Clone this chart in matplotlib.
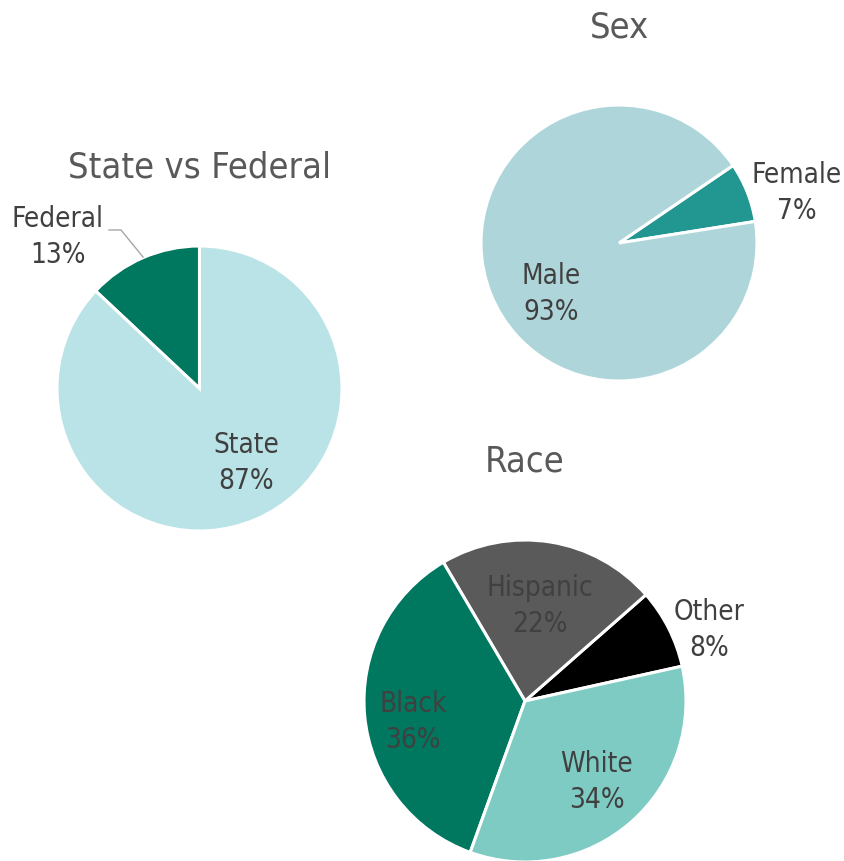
import matplotlib
matplotlib.use("Agg")
import matplotlib.pyplot as plt

# ---- data ----
court_labels = ["Federal", "State"]
court_values = [13, 87]
court_colors = ["#00775f", "#b9e3e6"]

sex_labels = ["Female", "Male"]
sex_values = [7, 93]
sex_colors = ["#229792", "#aed6da"]

race_labels = ["Other", "Hispanic", "Black", "White"]
race_values = [8, 22, 36, 34]
race_colors = ["#000000", "#5a5a5a", "#00775f", "#7ecbc4"]

TEXT = "#404040"
TITLE = "#595959"
W, H = 844, 861
FONT = dict(family=["Tahoma", "DejaVu Sans"], fontstretch="condensed")

fig = plt.figure(figsize=(W / 100, H / 100), dpi=100)
ax = fig.add_axes([0, 0, 1, 1])
ax.set_axis_off()


def py(y):
    return H - y


def draw_pie(values, colors, center, radius, start):
    ax.pie(values, colors=colors, startangle=start, counterclock=True,
           center=(center[0], py(center[1])), radius=radius,
           wedgeprops=dict(edgecolor="white", linewidth=2.2))


def label(text, pct, xy):
    ax.text(xy[0], py(xy[1]), f"{text}\n{pct}%", ha="center", va="center",
            fontsize=20, color=TEXT, linespacing=1.35, **FONT)


def title(text, xy):
    ax.text(xy[0], py(xy[1]), text, ha="center", va="center",
            fontsize=26, color=TITLE, **FONT)


# State vs Federal
draw_pie(court_values, court_colors, (199.5, 388.5), 142.5, 90)
title("State vs Federal", (199, 167))
label(court_labels[0], court_values[0], (58, 237))
label(court_labels[1], court_values[1], (246, 463))
ax.plot([109, 121, 143], [py(230), py(230), py(257)], color="#a6a6a6", lw=1.0)

# Sex
draw_pie(sex_values, sex_colors, (619, 243), 138, 9)
title("Sex", (619, 27))
label(sex_labels[0], sex_values[0], (797, 193))
label(sex_labels[1], sex_values[1], (551, 294))

# Race
draw_pie(race_values, race_colors, (525, 701), 161, 12.5)
title("Race", (525, 462))
label(race_labels[0], race_values[0], (709, 630))
label(race_labels[1], race_values[1], (540, 606))
label(race_labels[2], race_values[2], (413, 722))
label(race_labels[3], race_values[3], (597, 782))

ax.set_xlim(0, W)
ax.set_ylim(0, H)
ax.set_aspect("auto")

fig.savefig("out.png", dpi=100)
